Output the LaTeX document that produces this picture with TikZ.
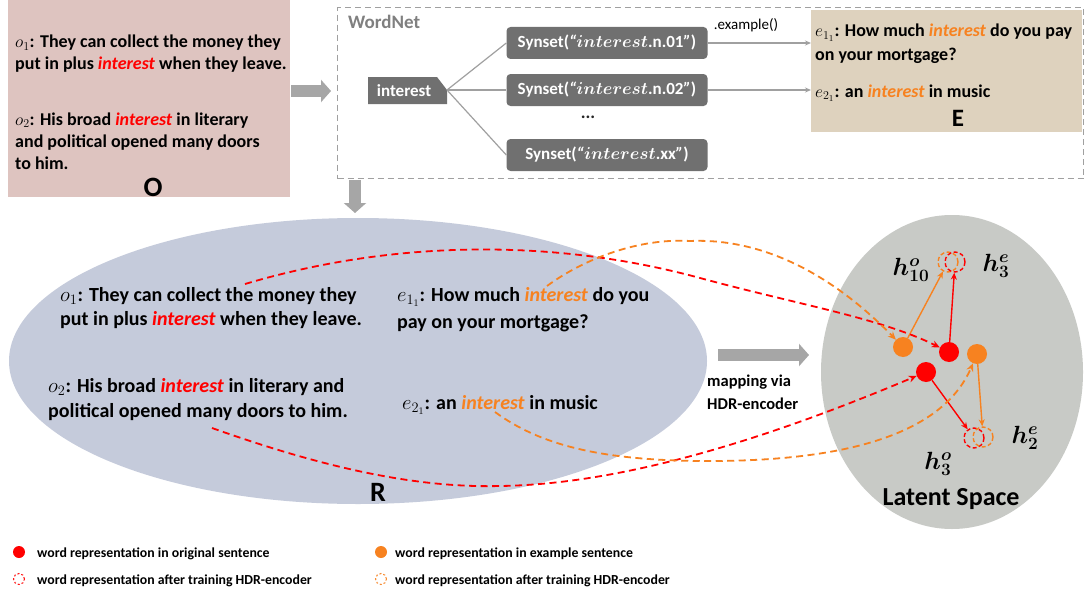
\documentclass[tikz,border=0pt]{standalone}
\usepackage{bm}
\usepackage{fontspec}
\setmainfont{Carlito}
\usetikzlibrary{arrows.meta,shapes.geometric}
\definecolor{obox}{RGB}{222,196,192}
\definecolor{ebox}{RGB}{222,210,190}
\definecolor{rell}{RGB}{197,203,219}
\definecolor{lell}{RGB}{200,202,198}
\definecolor{dbox}{RGB}{112,112,112}
\definecolor{barrow}{RGB}{166,166,166}
\definecolor{myred}{RGB}{255,0,0}
\definecolor{myorange}{RGB}{247,130,32}
\definecolor{wngray}{RGB}{128,128,128}
\definecolor{lnline}{RGB}{160,160,160}
\newcommand{\rint}{\textcolor{myred}{\textit{interest}}}
\newcommand{\orint}{\textcolor{myorange}{\textit{interest}}}
\newcommand{\mint}{$\bm{interest}$}
\begin{document}
\begin{tikzpicture}[x=1pt,y=-1pt,
  txt/.style={anchor=base west, inner sep=0pt, font=\fontsize{18}{20}\selectfont\bfseries},
  rtxt/.style={anchor=base west, inner sep=0pt, font=\fontsize{20}{22}\selectfont\bfseries},
  leg/.style={anchor=base west, inner sep=0pt, font=\fontsize{13.8}{15}\selectfont\bfseries},
  big/.style={inner sep=0pt, font=\fontsize{#1}{#1}\selectfont\bfseries},
  syn/.style={rounded corners=4pt, fill=dbox, text=white, minimum width=201pt, minimum height=32pt, inner sep=0pt, font=\fontsize{17}{20}\selectfont\bfseries},
  blk/.style={barrow, line width=12pt, -{Triangle[length=10pt,width=22pt]}},
  gln/.style={lnline, line width=1.2pt},
  garr/.style={lnline, line width=1.2pt, -{Stealth[length=6pt,width=5pt]}},
  dsh/.style={dash pattern=on 7pt off 4.5pt, line width=1.8pt},
  rdash/.style={dsh, myred, -{Stealth[length=8pt,width=7pt]}},
  odash/.style={dsh, myorange, -{Stealth[length=8pt,width=7pt]}},
  dot/.style={circle, inner sep=0pt, minimum size=#1, draw=none},
  ring/.style={circle, inner sep=0pt, minimum size=20pt, draw=#1, fill=none, dash pattern=on 4pt off 2.5pt, line width=1.4pt},
  lring/.style={circle, inner sep=0pt, minimum size=11pt, draw=#1, fill=none, dash pattern=on 2pt off 2pt, line width=1pt},
  rsol/.style={myred, line width=1.4pt, -{Stealth[length=7pt,width=6pt]}},
  osol/.style={myorange, line width=1.4pt, -{Stealth[length=7pt,width=6pt]}},
  hlab/.style={inner sep=0pt, font=\fontsize{23}{23}\selectfont}
]
\useasboundingbox[fill=white] (0,0) rectangle (1086,594);

% ---------- O box ----------
\node (O) [fill=obox, minimum width=282pt, minimum height=197pt, anchor=north west, inner sep=0pt] at (8,0) {};
\node (o1a) [txt] at (15,48) {$o_1$: They can collect the money they};
\node (o1b) [txt] at (15,70) {put in plus \rint{} when they leave.};
\node (o2a) [txt] at (15,125) {$o_2$: His broad \rint{} in literary};
\node (o2b) [txt] at (15,147) {and political opened many doors};
\node (o2c) [txt] at (15,169) {to him.};
\node (Olab) [big=28] at (153,187) {O};

% ---------- E box ----------
\node (Ebox) [fill=ebox, minimum width=271pt, minimum height=122pt, anchor=north west, inner sep=0pt] at (811,10) {};
\node (e1a) [txt] at (815,37) {$e_{1_1}$: How much \orint{} do you pay};
\node (e1b) [txt] at (815,60) {on your mortgage?};
\node (e2a) [txt] at (815,97) {$e_{2_1}$: an \orint{} in music};
\node (Elab) [big=25] at (958,118) {E};

% ---------- WordNet ----------
\node (WN) [draw=lnline, dash pattern=on 6pt off 4pt, line width=1.1pt, minimum width=746pt, minimum height=171pt, anchor=north west, inner sep=0pt] at (337,7) {};
\node (WNlab) [big=19, text=wngray, anchor=west] at (348,22) {WordNet};
\fill[dbox] (368,77) -- (437,77) -- (447,90) -- (447,104) -- (368,104) -- cycle;
\node (int) [inner sep=0pt, text=white, font=\fontsize{17}{20}\selectfont\bfseries] at (404,91) {interest};
\coordinate (itip) at (447,90);
\node (S1) [syn] at (607,43) {Synset(\textit{“}\mint.n.01\textit{”})};
\node (S2) [syn] at (607,90) {Synset(\textit{“}\mint.n.02\textit{”})};
\node (S3) [syn] at (607,155) {Synset(\textit{“}\mint.xx\textit{”})};
\node (dots) [big=18, text=black!85] at (588,117) {...};
\draw[gln] (itip) -- (S1.west);
\draw[gln] (itip) -- (S2.west);
\draw[gln] (itip) -- (S3.west);
\draw[garr] (S1.east) -- (S1.east -| Ebox.west);
\draw[garr] (S2.east) -- (S2.east -| Ebox.west);
\node (ex) [inner sep=0pt, font=\fontsize{15}{15}\selectfont] at (746,25) {.example()};

% ---------- block arrows ----------
\coordinate (a1s) at (291,91);
\coordinate (a1e) at (331,91);
\draw[blk] (a1s) -- (a1e);
\coordinate (a2s) at (355,180);
\coordinate (a2e) at (355,213);
\draw[blk] (a2s) -- (a2e);
\coordinate (a3s) at (718,355);
\coordinate (a3e) at (809,355);
\draw[blk] (a3s) -- (a3e);
\node (map1) [anchor=west, inner sep=0pt, font=\fontsize{16.5}{18}\selectfont\bfseries] at (707,382) {mapping via};
\node (map2) [anchor=west, inner sep=0pt, font=\fontsize{16.5}{18}\selectfont\bfseries] at (707,404) {HDR-encoder};

% ---------- R ellipse ----------
\node (R) [ellipse, fill=rell, minimum width=698pt, minimum height=286pt, inner sep=0pt] at (358,361) {};
\node (r1a) [rtxt] at (60,301) {$o_1$: They can collect the money they};
\node (r1b) [rtxt] at (60,325) {put in plus \rint{} when they leave.};
\node (r3a) [rtxt] at (397,301) {$e_{1_1}$: How much \orint{} do you};
\node (r3b) [rtxt] at (397,328) {pay on your mortgage?};
\node (r2a) [rtxt] at (48,392) {$o_2$: His broad \rint{} in literary and};
\node (r2b) [rtxt] at (48,417) {political opened many doors to him.};
\node (r4a) [rtxt] at (402,409) {$e_{2_1}$: an \orint{} in music};
\node (Rlab) [big=28] at (378,492) {R};

% ---------- Latent space ----------
\node (L) [ellipse, fill=lell, minimum width=262pt, minimum height=314pt, inner sep=0pt] at (952,372) {};
\node (Llab) [big=26] at (951,499) {Latent Space};
\node (A) [dot=20pt, fill=myorange] at (903,347) {};
\node (B) [dot=20pt, fill=myred] at (949,352) {};
\node (C) [dot=20pt, fill=myorange] at (977,354) {};
\node (D) [dot=20pt, fill=myred] at (926,372) {};
\node (To) [ring=myorange] at (948,262) {};
\node (Tr) [ring=myred] at (955,262) {};
\node (Br) [ring=myred] at (974,438) {};
\node (Bo) [ring=myorange] at (983,437) {};
\draw[osol] (A) -- (To);
\draw[rsol] (B) -- (Tr);
\draw[rsol] (D) -- (Br);
\draw[osol] (C) -- (Bo);
\node (hoten) [hlab] at (911,270) {$\bm{h^{o}_{10}}$};
\node (hethree) [hlab] at (996,266) {$\bm{h^{e}_{3}}$};
\node (hetwo) [hlab] at (1025,438) {$\bm{h^{e}_{2}}$};
\node (hothree) [hlab] at (938,464) {$\bm{h^{o}_{3}}$};

% ---------- dashed connectors ----------
\coordinate (r1s) at (245,284);
\coordinate (o1s) at (547,286);
\coordinate (r2s) at (212,428);
\coordinate (o2s) at (495,412);
\draw[rdash] (r1s) .. controls (400,238) and (560,240) .. (700,278) .. controls (800,305) and (880,318) .. (B);
\draw[odash] (o1s) .. controls (585,258) and (640,238) .. (690,241) .. controls (760,238) and (830,272) .. (A);
\draw[rdash] (r2s) .. controls (330,470) and (420,488) .. (500,486) .. controls (640,484) and (800,425) .. (D);
\draw[odash] (o2s) .. controls (540,445) and (600,460) .. (700,461) .. controls (830,462) and (940,440) .. (C);

% ---------- legend ----------
\node (l1) [dot=12pt, fill=myred] at (19,552) {};
\node (l1t) [leg] at (37,557) {word representation in original sentence};
\node (l2) [lring=myred] at (19,579) {};
\node (l2t) [leg] at (37,584) {word representation after training HDR-encoder};
\node (l3) [dot=12pt, fill=myorange] at (381,552) {};
\node (l3t) [leg] at (395,557) {word representation in example sentence};
\node (l4) [lring=myorange] at (381,579) {};
\node (l4t) [leg] at (395,584) {word representation after training HDR-encoder};
\end{tikzpicture}
\end{document}
